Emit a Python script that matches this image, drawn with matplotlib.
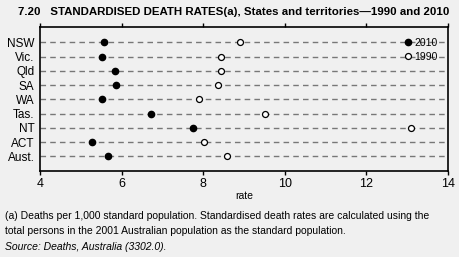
import matplotlib
matplotlib.use("Agg")
import matplotlib.pyplot as plt

# states and territories, top to bottom
states = ["NSW", "Vic.", "Qld", "SA", "WA", "Tas.", "NT", "ACT", "Aust."]
rate_2010 = [5.58, 5.52, 5.83, 5.87, 5.51, 6.71, 7.74, 5.27, 5.67]
rate_1990 = [8.89, 8.43, 8.44, 8.36, 7.90, 9.51, 13.10, 8.02, 8.59]
xticks = [4, 6, 8, 10, 12, 14]

bg = '#f0f0f0'
plt.rcParams['font.family'] = ['Liberation Sans', 'DejaVu Sans']

fig = plt.figure(figsize=(4.6, 2.57), dpi=100, facecolor=bg)
ax = fig.add_axes([40 / 460, 1 - 171 / 257, 408 / 460, 144 / 257])
ax.set_facecolor(bg)

ypos = list(range(len(states)))

# dashed guide lines for each row
for y in ypos:
    ax.axhline(y, color='#777777', linestyle=(0, (4, 3)), linewidth=1.0, zorder=1)

ax.plot(rate_2010, ypos, 'o', color='black', markersize=4.5, label='2010', zorder=3)
ax.plot(rate_1990, ypos, 'o', markerfacecolor='white', markeredgecolor='black',
        markeredgewidth=0.9, markersize=4.3, label='1990', zorder=3)

ax.set_xlim(4, 14)
ax.set_ylim(len(states) - 1 + 1.03, -1.07)
ax.set_xticks(xticks)
ax.set_yticks(ypos)
ax.set_yticklabels(states, fontsize=8.5)
ax.tick_params(axis='y', length=0, pad=4)
ax.tick_params(axis='x', top=True, labeltop=False, direction='out', length=3,
               width=1, labelsize=9, pad=2)
for s in ax.spines.values():
    s.set_linewidth(1.2)
ax.set_xlabel('rate', fontsize=7.5, labelpad=1)

leg = ax.legend(loc='upper left', bbox_to_anchor=(0.895, 0.925), frameon=False,
                fontsize=7.5, handlelength=0.6, handletextpad=0.3, labelspacing=0.38,
                borderpad=0, borderaxespad=0)

fig.text(18 / 460, 1 - 12 / 257, '7.20   STANDARDISED DEATH RATES(a), States and territories\u20141990 and 2010',
         fontsize=8.25, fontweight='bold', va='center', ha='left')
fig.text(5 / 460, 1 - 216 / 257, '(a) Deaths per 1,000 standard population. Standardised death rates are calculated using the',
         fontsize=7.5, va='center', ha='left')
fig.text(5 / 460, 1 - 231 / 257, 'total persons in the 2001 Australian population as the standard population.',
         fontsize=7.5, va='center', ha='left')
fig.text(5 / 460, 1 - 247 / 257, 'Source: Deaths, Australia (3302.0).',
         fontsize=7.5, style='italic', va='center', ha='left')

fig.savefig('out.png', dpi=100, facecolor=bg)
